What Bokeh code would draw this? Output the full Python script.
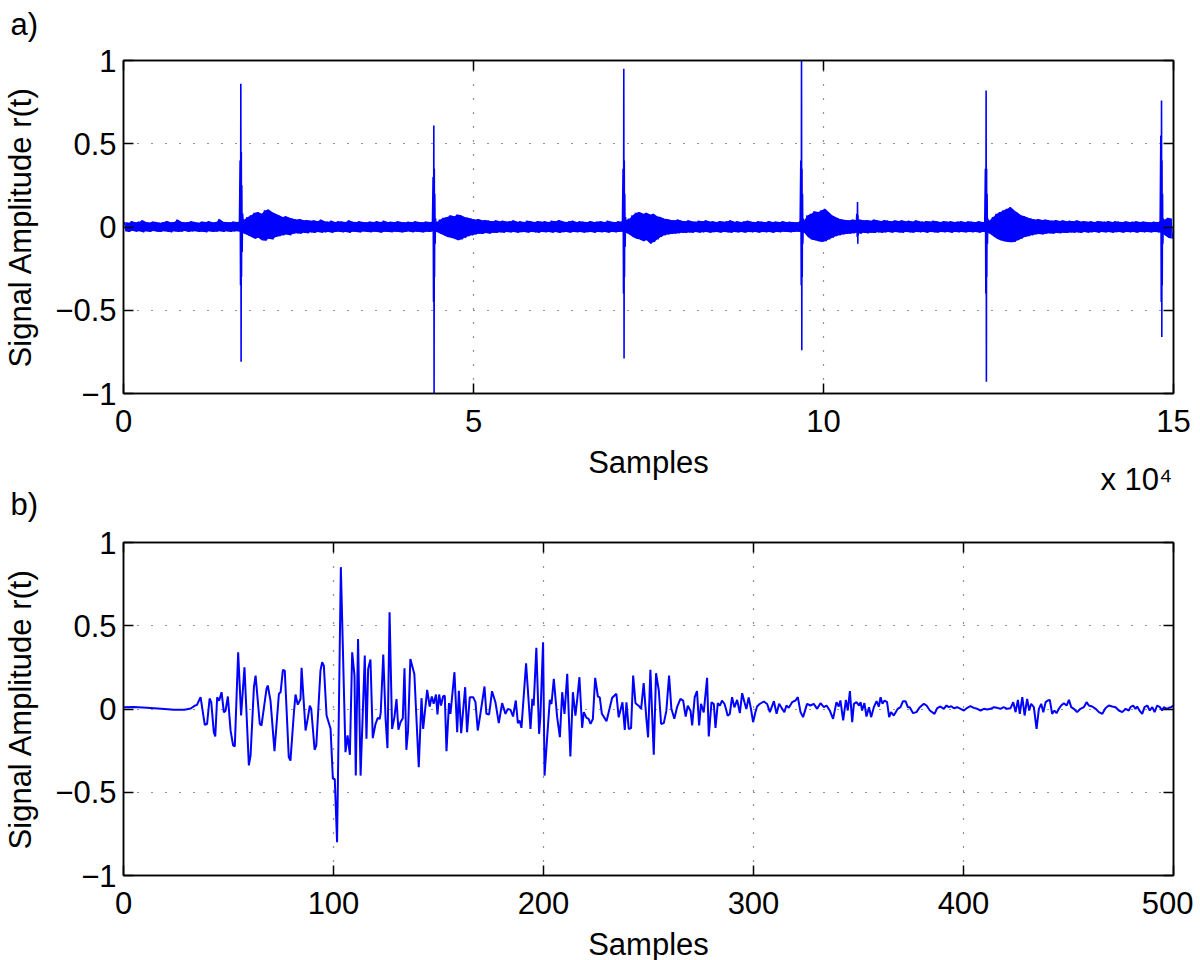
from bokeh.plotting import figure
from bokeh.layouts import column
from bokeh.models import Range1d, FixedTicker, LinearAxis, CustomJSTickFormatter
from bokeh.embed import file_html
from bokeh.resources import INLINE

# ---------------- data: panel a) ----------------
# upper / lower edge of the dense noise band, one pair per 500-sample bin
bin_size = 500
top_hi = [0.030, 0.025, 0.035, 0.028, 0.032, 0.040, 0.030, 0.027, 0.033, 0.030,
          0.025, 0.030, 0.036, 0.028, 0.030, 0.045, 0.032, 0.028, 0.030, 0.035,
          0.030, 0.026, 0.033, 0.030, 0.035, 0.028, 0.030, 0.048, 0.032, 0.030,
          0.028, 0.033, 0.030, 0.035, 0.045, 0.060, 0.070, 0.085, 0.090, 0.080,
          0.100, 0.105, 0.090, 0.080, 0.070, 0.060, 0.065, 0.055, 0.050, 0.045,
          0.048, 0.040, 0.042, 0.038, 0.040, 0.035, 0.045, 0.035, 0.032, 0.038,
          0.030, 0.035, 0.033, 0.030, 0.040, 0.032, 0.030, 0.035, 0.030, 0.028,
          0.033, 0.030, 0.035, 0.030, 0.038, 0.030, 0.032, 0.030, 0.035, 0.030,
          0.028, 0.032, 0.030, 0.035, 0.030, 0.028, 0.033, 0.030, 0.032, 0.030,
          0.045, 0.055, 0.060, 0.070, 0.065, 0.075, 0.070, 0.060, 0.055, 0.050,
          0.045, 0.048, 0.040, 0.042, 0.038, 0.035, 0.040, 0.035, 0.038, 0.033,
          0.035, 0.040, 0.032, 0.035, 0.030, 0.038, 0.035, 0.030, 0.036, 0.032,
          0.035, 0.030, 0.038, 0.035, 0.042, 0.035, 0.030, 0.035, 0.038, 0.030,
          0.035, 0.032, 0.030, 0.036, 0.030, 0.033, 0.035, 0.030, 0.038, 0.032,
          0.030, 0.035, 0.032, 0.040, 0.050, 0.070, 0.085, 0.090, 0.080, 0.085,
          0.075, 0.080, 0.065, 0.060, 0.050, 0.048, 0.042, 0.040, 0.045, 0.038,
          0.035, 0.040, 0.035, 0.032, 0.038, 0.035, 0.040, 0.033, 0.035, 0.030,
          0.036, 0.032, 0.035, 0.040, 0.032, 0.035, 0.030, 0.034, 0.038, 0.032,
          0.030, 0.035, 0.032, 0.030, 0.036, 0.030, 0.033, 0.030, 0.035, 0.030,
          0.032, 0.030, 0.028, 0.035, 0.040, 0.070, 0.080, 0.095, 0.090, 0.100,
          0.110, 0.090, 0.070, 0.060, 0.050, 0.045, 0.042, 0.040, 0.045, 0.040,
          0.045, 0.040, 0.042, 0.038, 0.045, 0.040, 0.036, 0.042, 0.038, 0.035,
          0.040, 0.036, 0.040, 0.035, 0.038, 0.033, 0.040, 0.035, 0.032, 0.036,
          0.033, 0.038, 0.035, 0.030, 0.036, 0.032, 0.035, 0.030, 0.033, 0.035,
          0.030, 0.034, 0.032, 0.030, 0.035, 0.030, 0.032, 0.040, 0.060, 0.080,
          0.090, 0.100, 0.110, 0.120, 0.100, 0.085, 0.070, 0.065, 0.055, 0.050,
          0.045, 0.048, 0.042, 0.045, 0.040, 0.038, 0.042, 0.036, 0.040, 0.035,
          0.038, 0.035, 0.040, 0.033, 0.036, 0.032, 0.035, 0.030, 0.036, 0.033,
          0.032, 0.036, 0.030, 0.035, 0.032, 0.030, 0.034, 0.030, 0.032, 0.035,
          0.030, 0.033, 0.030, 0.028, 0.032, 0.030, 0.035, 0.045, 0.055, 0.050]
top_lo = [-0.025, -0.030, -0.022, -0.028, -0.025, -0.032, -0.026, -0.030, -0.024, -0.028,
          -0.030, -0.025, -0.028, -0.032, -0.026, -0.030, -0.028, -0.024, -0.030, -0.027,
          -0.025, -0.030, -0.028, -0.032, -0.026, -0.030, -0.028, -0.025, -0.030, -0.026,
          -0.030, -0.027, -0.025, -0.030, -0.040, -0.050, -0.060, -0.070, -0.065, -0.080,
          -0.082, -0.070, -0.075, -0.060, -0.055, -0.050, -0.045, -0.050, -0.040, -0.038,
          -0.040, -0.035, -0.038, -0.032, -0.036, -0.030, -0.034, -0.032, -0.030, -0.035,
          -0.030, -0.028, -0.032, -0.030, -0.035, -0.028, -0.030, -0.033, -0.027, -0.030,
          -0.032, -0.028, -0.030, -0.034, -0.028, -0.030, -0.032, -0.028, -0.030, -0.033,
          -0.030, -0.027, -0.032, -0.028, -0.030, -0.033, -0.028, -0.030, -0.026, -0.030,
          -0.040, -0.050, -0.060, -0.065, -0.070, -0.080, -0.075, -0.065, -0.055, -0.050,
          -0.045, -0.040, -0.042, -0.036, -0.040, -0.034, -0.036, -0.032, -0.035, -0.030,
          -0.033, -0.030, -0.035, -0.031, -0.030, -0.034, -0.030, -0.032, -0.035, -0.030,
          -0.032, -0.030, -0.034, -0.030, -0.036, -0.031, -0.030, -0.034, -0.030, -0.032,
          -0.030, -0.034, -0.031, -0.030, -0.035, -0.030, -0.032, -0.030, -0.034, -0.030,
          -0.032, -0.030, -0.028, -0.035, -0.045, -0.060, -0.070, -0.075, -0.085, -0.080,
          -0.100, -0.090, -0.075, -0.060, -0.050, -0.045, -0.042, -0.040, -0.038, -0.035,
          -0.036, -0.033, -0.035, -0.030, -0.034, -0.032, -0.030, -0.035, -0.031, -0.030,
          -0.034, -0.030, -0.032, -0.035, -0.030, -0.033, -0.030, -0.034, -0.030, -0.032,
          -0.030, -0.034, -0.030, -0.032, -0.030, -0.035, -0.030, -0.032, -0.028, -0.030,
          -0.032, -0.030, -0.028, -0.030, -0.035, -0.060, -0.075, -0.080, -0.085, -0.090,
          -0.085, -0.075, -0.065, -0.055, -0.050, -0.045, -0.042, -0.040, -0.038, -0.035,
          -0.040, -0.035, -0.038, -0.034, -0.036, -0.032, -0.035, -0.033, -0.030, -0.034,
          -0.030, -0.033, -0.035, -0.030, -0.032, -0.034, -0.030, -0.032, -0.030, -0.035,
          -0.030, -0.032, -0.034, -0.030, -0.032, -0.030, -0.035, -0.030, -0.032, -0.030,
          -0.033, -0.030, -0.032, -0.030, -0.034, -0.030, -0.032, -0.040, -0.055, -0.070,
          -0.080, -0.085, -0.090, -0.091, -0.090, -0.080, -0.070, -0.060, -0.055, -0.050,
          -0.045, -0.042, -0.045, -0.040, -0.038, -0.040, -0.036, -0.038, -0.035, -0.036,
          -0.033, -0.035, -0.032, -0.036, -0.030, -0.034, -0.032, -0.030, -0.035, -0.030,
          -0.033, -0.030, -0.035, -0.031, -0.030, -0.034, -0.030, -0.032, -0.030, -0.034,
          -0.030, -0.032, -0.030, -0.033, -0.030, -0.032, -0.035, -0.050, -0.065, -0.070]

# impulses: sample position of each event and its excursions
spike_center = [16860, 44430, 71570, 96960, 104960, 123330, 148390]
spike_dx = [-300, -200, -140, -100, -60, -30, 0, 40, 90, 150, 250]
spike_vals = [
    [0.0, 0.40, -0.35, 0.86, -0.81, 0.45, -0.30, 0.25, -0.15, 0.08, 0.02],
    [0.0, 0.30, -0.45, 0.61, -1.00, 0.35, -0.30, 0.20, -0.10, 0.05, 0.0],
    [0.0, 0.35, -0.40, 0.95, -0.79, 0.40, -0.30, 0.20, -0.12, 0.06, 0.0],
    [0.0, 0.40, -0.35, 1.00, -0.74, 0.35, -0.30, 0.20, -0.10, 0.05, 0.0],
    [0.0, 0.08, -0.06, 0.15, -0.10, 0.07, -0.05, 0.03, -0.02, 0.01, 0.0],
    [0.0, 0.35, -0.40, 0.82, -0.93, 0.35, -0.30, 0.20, -0.10, 0.05, 0.0],
    [0.0, 0.55, -0.45, 0.76, -0.66, 0.40, -0.35, 0.20, -0.10, 0.05, 0.0],
]

top_xticks = [0, 50000, 100000, 150000]
top_xlabels = ["0", "5", "10", "15"]
exponent_text = "x 10\u2074"
exponent_at = 144700          # sample position under which the exponent note is centred

# ---------------- data: panel b) ----------------
bot_s = [0, 5, 11, 18, 24, 29, 32, 34, 35,
         36.7, 38.7, 39.8, 41.0, 41.8, 43.0, 43.7, 44.6, 45.5, 46.7, 47.8, 48.6, 49.7,
         51.0, 52.2, 53.0, 54.6, 56.0, 57.6, 59.7, 60.5, 62.1, 62.9, 64.9, 65.7, 68.1,
         68.7, 70.0, 71.9, 74.0, 74.8, 75.9, 76.8, 78.7, 79.5, 81.1, 81.9, 83.0, 84.3,
         84.8, 86.7, 87.8, 88.7, 89.4, 91.0, 91.8, 93.8, 94.6, 95.4, 96.7, 98.6, 99.7,
         100.6, 101.7, 103.5, 105.7, 106.7, 107.8, 108.9, 110.0, 110.6, 111.7, 112.9,
         114.9, 115.7, 116.5, 117.6, 118.7, 120.0, 121.1, 122.0, 122.5, 123.7, 124.8,
         125.7, 126.7, 127.9, 129.0, 130.0, 130.9, 131.9, 133.0, 133.8, 134.7, 135.5,
         136.6, 138.5, 140.6, 141.9, 142.7, 144.6, 145.8, 146.8, 147.7, 148.8, 149.5,
         150.3, 151.2, 152.2, 153.0, 153.8, 155.0, 155.7, 157.6, 158.9, 159.7, 160.8,
         162.7, 163.6, 164.9, 166.5, 167.6, 168.7, 170.0, 171.9, 172.8, 174.1, 175.5,
         177.1, 178.7, 180.3, 181.9, 183.0, 184.3, 185.5, 186.8, 187.8, 188.7, 189.5,
         191.7, 193.8, 194.7, 195.3, 196.6, 197.9, 198.5, 199.8, 200.5, 201.7, 203.0,
         203.8, 204.9, 206.5, 207.8, 208.9, 210.0, 211.3, 212.8, 214.0, 215.2, 216.0,
         217.1, 218.4, 219.2, 220.5, 221.5, 222.4, 223.5, 224.6, 225.9, 226.8, 227.8,
         230.0, 232.7, 234.7, 235.8, 237.6, 238.7, 239.5, 240.6, 241.7, 242.7, 243.8,
         245.3, 246.5, 247.7, 249.0, 249.8, 250.9, 252.5, 253.6, 254.9, 256.0, 257.3,
         258.5, 259.8, 260.9, 262.3, 263.6, 265.2, 266.5, 267.7, 268.7, 270.0, 270.8,
         272.0, 273.1, 274.1, 275.0, 276.3, 277.9, 278.7, 280.0, 281.1, 281.9, 283.0,
         284.0, 285.0, 286.2, 287.0, 287.7, 288.7, 289.8, 290.9, 292.2, 293.5, 294.6,
         295.7, 296.6, 297.7, 298.8, 299.8, 300.9, 301.7,
         302.9, 304.9, 306.5, 307.8, 309.7, 311.0, 312.2, 313.2, 314.7, 315.7, 316.8,
         318.4, 320.0, 321.1, 322.4, 323.6, 325.5, 327.1, 328.7, 330.3, 331.9, 333.5,
         334.8, 336.3, 337.9, 339.5, 340.6, 341.4, 342.7, 344.0, 344.9, 345.9, 347.0,
         347.8, 349.0, 350.3, 351.0, 351.7, 352.8, 353.8, 355.0, 356.0, 357.3, 358.6,
         359.7, 360.5, 361.4, 362.4, 363.6, 364.6, 365.5, 366.8, 368.7, 370.0, 371.2,
         372.4, 373.5, 374.4, 376.0, 377.6, 379.2, 381.1, 382.4, 384.0, 386.2, 387.5,
         389.0, 390.6, 391.9, 393.0, 394.2, 395.4, 397.0, 398.6, 400.2, 401.8, 403.3,
         404.9, 406.5, 408.1, 409.7, 411.3, 412.9, 414.5, 416.0, 417.6, 419.2, 420.8,
         422.4, 423.7, 424.8, 425.9, 426.8, 428.0, 429.1, 430.3, 431.3, 432.2, 433.5,
         434.8, 435.9, 437.0, 438.0, 439.1, 440.2, 441.1, 442.2, 443.3, 444.3, 445.4,
         446.5, 447.8, 449.1, 450.2, 451.3, 452.5, 454.1, 455.7, 457.3, 458.6, 459.7,
         461.3, 462.9, 464.5, 466.1, 467.6, 469.2, 470.8, 472.4, 474.0, 475.6, 477.2,
         478.7, 479.5, 480.8, 481.9, 482.7, 484.0, 485.1, 486.2, 487.5, 488.7, 489.9,
         491.0, 492.2, 493.5, 494.6, 495.4, 496.7, 497.8, 498.9, 500.0]
bot_v = [0.011, 0.012, 0.008, 0.002, -0.005, -0.004, 0.003, 0.02, 0.025,
         0.071, -0.095, -0.09, 0.063, 0.04, -0.139, -0.165, 0.071, 0.05, 0.101, -0.02, -0.01, 0.075,
         -0.13, -0.219, -0.225, 0.341, -0.039, 0.251, -0.339, -0.28, 0.131, 0.201, -0.089, -0.1, 0.121,
         0.141, 0.05, -0.253, 0.091, 0.10, 0.235, 0.23, -0.289, -0.31, -0.03, 0.087, 0.026, 0.06,
         0.247, -0.129, -0.053, 0.02, 0.0, -0.245, -0.22, 0.231, 0.281, 0.26, -0.039, -0.119, -0.419,
         -0.42, -0.80, 0.852, -0.259, -0.159, -0.275, 0.341, 0.2, -0.40, 0.421, -0.40,
         0.321, -0.179, 0.241, 0.297, -0.175, -0.09, -0.053, -0.06, -0.02, 0.327, -0.06,
         -0.235, 0.581, -0.12, -0.05, 0.06, -0.125, -0.08, -0.055, 0.245, -0.245, -0.13,
         0.30, 0.21, -0.35, 0.065, -0.12, 0.115, 0.015, 0.075, 0.031, 0.087, -0.033,
         0.087, 0.021, 0.077, 0.079, -0.253, 0.035, -0.029, 0.221, -0.139, 0.11, -0.145,
         0.131, -0.139, 0.071, 0.071, 0.041, -0.129, -0.025, 0.135, -0.029, -0.033, 0.107,
         0.041, -0.085, 0.035, -0.029, 0.001, -0.005, -0.045, 0.051, -0.085, -0.07, -0.113,
         0.275, -0.119, 0.061, 0.02, 0.367, -0.149, -0.05, 0.401, -0.40, -0.179, 0.055,
         0.03, 0.181, -0.049, -0.169, 0.101, -0.029, 0.211, -0.285, 0.101, -0.04, 0.051,
         0.191, -0.113, -0.019, -0.053, -0.06, -0.089, -0.06, 0.187, 0.075, 0.07, -0.029,
         -0.073, 0.067, 0.091, -0.05, 0.04, -0.126, 0.04, -0.12, -0.115, 0.201, 0.035,
         0.02, 0.001, 0.155, -0.059, -0.17, 0.235, -0.274, 0.215, 0.111, -0.09, -0.085,
         -0.01, 0.201, 0.001, -0.059, 0.011, 0.061, 0.05, -0.045, 0.02, -0.01, -0.099,
         0.071, 0.107, -0.099, 0.031, -0.02, 0.187, -0.165, 0.041, 0.03, -0.113, 0.035,
         0.02, 0.051, 0.03, -0.005, -0.04, -0.03, 0.071, 0.01, 0.055, -0.025, 0.095,
         0.04, 0.0, 0.07, 0.0, -0.079, -0.02, 0.015,
         0.03, 0.045, 0.03, -0.019, 0.047, -0.029, 0.031, 0.011, -0.019, 0.021, 0.007,
         0.041, 0.051, 0.071, -0.019, -0.049, 0.031, 0.021, 0.031, 0.001, 0.035, 0.011,
         0.021, -0.009, -0.059, 0.041, 0.015, 0.051, -0.069, 0.055, -0.009, 0.107, -0.079,
         0.031, 0.041, 0.021, 0.041, -0.009, 0.035, -0.045, 0.011, -0.049, 0.011, 0.047,
         0.015, 0.071, 0.031, 0.051, 0.041, -0.049, -0.019, -0.039, 0.001, 0.011, 0.047,
         0.047, 0.011, 0.011, -0.025, -0.019, 0.011, 0.031, 0.021, -0.009, -0.029, 0.005,
         0.015, 0.001, 0.021, 0.011, 0.017, 0.005, 0.011, 0.001, -0.009, 0.007, 0.017,
         0.007, 0.001, -0.009, 0.001, -0.003, 0.001, 0.011, 0.007, 0.001, 0.011, 0.001,
         0.005, 0.041, -0.019, 0.055, -0.029, 0.071, -0.039, 0.061, -0.009, 0.031, 0.011,
         -0.119, 0.001, 0.031, -0.019, 0.041, 0.051, 0.055, -0.029, -0.009, -0.025, 0.001,
         0.021, 0.035, 0.021, 0.055, 0.011, 0.001, -0.019, 0.001, 0.011, 0.041, 0.021,
         0.015, 0.001, -0.019, -0.029, 0.005, 0.021, 0.015, 0.011, -0.009, -0.019, 0.001,
         -0.009, 0.011, 0.021, 0.001, 0.015, -0.013, -0.029, 0.011, 0.021, -0.009, 0.011,
         -0.019, 0.021, 0.011, -0.009, 0.011, 0.001, 0.007, 0.011, 0.021]

bot_xticks = [0, 100, 200, 300, 400, 500]
y_ticks = [-1, -0.5, 0, 0.5, 1]
y_labels = ["\u22121", "\u22120.5", "0", "0.5", "1"]

# ---------------- styling ----------------
FONT = "Liberation Sans"
FS = "31px"
BLUE = "#0000ff"


def style(p, xticks, xlabels):
    p.xaxis.ticker = FixedTicker(ticks=xticks)
    p.yaxis.ticker = FixedTicker(ticks=y_ticks)
    p.xaxis.major_label_overrides = {t: l for t, l in zip(xticks, xlabels)}
    p.yaxis.major_label_overrides = {t: l for t, l in zip(y_ticks, y_labels)}
    for ax in (p.xaxis[0], p.yaxis[0]):
        ax.major_tick_in = 10
        ax.major_tick_out = 0
        ax.minor_tick_in = 0
        ax.minor_tick_out = 0
        ax.axis_line_width = 1.5
        ax.major_tick_line_width = 1.5
        ax.major_label_text_font = FONT
        ax.major_label_text_font_size = FS
        ax.major_label_text_color = "black"
        ax.axis_label_text_font = FONT
        ax.axis_label_text_font_size = FS
        ax.axis_label_text_font_style = "normal"
        ax.axis_label_text_color = "black"
    p.xaxis.major_label_standoff = 16
    p.yaxis.major_label_standoff = 7
    p.xaxis.axis_label = "Samples"
    p.yaxis.axis_label = "Signal Amplitude r(t)"
    p.xaxis.axis_label_standoff = 10
    p.yaxis.axis_label_standoff = 14
    # box ticks on top and right
    for loc, tk in (("above", xticks), ("right", y_ticks)):
        ax = LinearAxis(ticker=FixedTicker(ticks=tk),
                        formatter=CustomJSTickFormatter(code="return ''"),
                        major_tick_in=10, major_tick_out=0,
                        minor_tick_in=0, minor_tick_out=0,
                        axis_line_width=1.5, major_tick_line_width=1.5,
                        major_label_standoff=0, major_label_text_font_size="1px")
        p.add_layout(ax, loc)
    p.xgrid.ticker = FixedTicker(ticks=xticks)
    p.ygrid.ticker = FixedTicker(ticks=y_ticks)
    for g in (p.xgrid[0], p.ygrid[0]):
        g.grid_line_color = "black"
        g.grid_line_width = 1.2
        g.grid_line_dash = "1 13"
        g.grid_line_alpha = 0.85
    p.outline_line_color = "black"
    p.outline_line_width = 1.5
    p.background_fill_color = "white"


def panel_title(p, text, standoff):
    p.title.text = text
    p.title.align = "left"
    p.title.vertical_align = "top"
    p.title.offset = -113
    p.title.standoff = standoff
    p.title.text_font = FONT
    p.title.text_font_size = FS
    p.title.text_font_style = "normal"
    p.title.text_color = "black"


# ---------------- panel a) ----------------
p1 = figure(frame_width=1050, frame_height=333, output_backend="svg", toolbar_location=None,
            x_range=Range1d(0, 150000), y_range=Range1d(-1, 1),
            min_border_left=115, min_border_right=20, min_border_top=72, min_border_bottom=109,
            margin=(-12, 0, 0, 0))
style(p1, top_xticks, top_xlabels)
p1.border_fill_color = "white"
panel_title(p1, "a)", 34)

band_x, band_y, mid_x = [], [], []
for i, (h, l) in enumerate(zip(top_hi, top_lo)):
    band_x += [i * bin_size + bin_size * 0.25, i * bin_size + bin_size * 0.75]
    band_y += [h, l]
    mid_x.append(i * bin_size + bin_size * 0.5)
p1.varea(x=mid_x, y1=top_lo, y2=top_hi, fill_color=BLUE)
p1.line(band_x, band_y, line_color=BLUE, line_width=1.3)
xs = [[c + d for d in spike_dx] for c in spike_center]
p1.multi_line(xs, spike_vals, line_color=BLUE, line_width=1.6)

# exponent note of the x axis, placed in the row of the axis title, at the right end
exp_axis = LinearAxis(ticker=FixedTicker(ticks=[exponent_at]),
                      major_label_overrides={exponent_at: exponent_text},
                      axis_line_color=None, major_tick_line_color=None,
                      minor_tick_line_color=None, major_tick_in=0, major_tick_out=0,
                      major_label_standoff=-21, major_label_text_font=FONT,
                      major_label_text_font_size=FS, major_label_text_color="black")
p1.add_layout(exp_axis, "below")

# ---------------- panel b) ----------------
p2 = figure(frame_width=1050, frame_height=333, output_backend="svg", toolbar_location=None,
            x_range=Range1d(0, 500), y_range=Range1d(-1, 1),
            min_border_left=115, min_border_right=20, min_border_top=78, min_border_bottom=85,
            margin=(-38, 0, 0, 0))
style(p2, bot_xticks, [str(t) for t in bot_xticks])
p2.border_fill_alpha = 0.0
panel_title(p2, "b)", 38)
p2.line(bot_s, bot_v, line_color=BLUE, line_width=2)

layout = column(p1, p2, spacing=0)
open("out.html", "w").write(file_html(layout, INLINE))
